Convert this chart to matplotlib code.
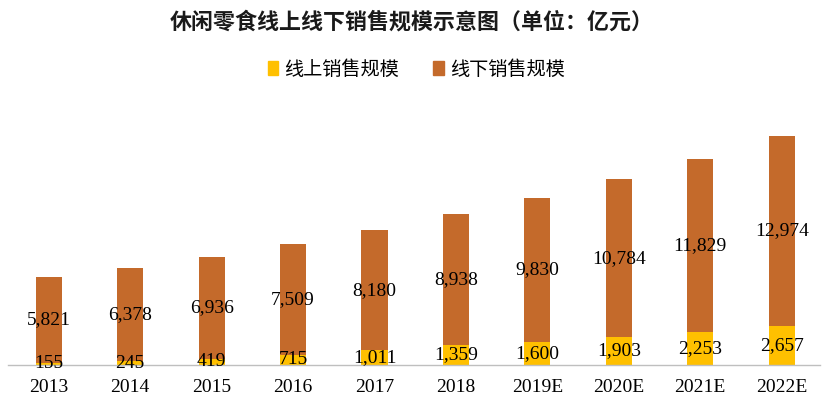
import matplotlib
matplotlib.use("Agg")
import matplotlib.pyplot as plt
from matplotlib.patches import Patch

years = ["2013", "2014", "2015", "2016", "2017", "2018", "2019E", "2020E", "2021E", "2022E"]
online = [155, 245, 419, 715, 1011, 1359, 1600, 1903, 2253, 2657]
offline = [5821, 6378, 6936, 7509, 8180, 8938, 9830, 10784, 11829, 12974]
series_names = ["线上销售规模", "线下销售规模"]
title = "休闲零食线上线下销售规模示意图（单位：亿元）"

c_on = "#FFC000"
c_off = "#C46A2B"
cjk = ["Noto Sans CJK SC", "DejaVu Sans"]
serif = "Liberation Serif"

fig = plt.figure(figsize=(8.24, 4.08), dpi=100)
W, H = 824, 408
ax = fig.add_axes([8 / W, 1 - 365 / H, (820 - 8) / W, (365 - 100) / H])

x = list(range(len(years)))
bw = 0.32
ax.bar(x, online, width=bw, color=c_on, zorder=2)
ax.bar(x, offline, width=bw, bottom=online, color=c_off, zorder=2)

for i in x:
    ax.text(i, online[i] / 2, f"{online[i]:,}", ha="center", va="center",
            fontsize=14, family=serif, color="black", zorder=3)
    ax.text(i, online[i] + offline[i] / 2, f"{offline[i]:,}", ha="center", va="center",
            fontsize=14, family=serif, color="black", zorder=3)

totals = [a + b for a, b in zip(online, offline)]
ax.set_xlim(-0.5, len(years) - 0.53)
ax.set_ylim(0, max(totals) * 1.157)
ax.set_xticks(x)
ax.set_xticklabels(years, fontsize=14, family=serif)
ax.tick_params(axis="x", length=0, pad=10)
ax.set_yticks([])
for s in ["top", "right", "left"]:
    ax.spines[s].set_visible(False)
ax.spines["bottom"].set_color("#BFBFBF")
ax.spines["bottom"].set_linewidth(1)

fig.text(0.5, 1 - 22 / H, title, ha="center", va="center", fontsize=15.8,
         fontweight="bold", family=cjk, color="#1a1a1a")

handles = [Patch(color=c_on), Patch(color=c_off)]
fig.legend(handles, series_names, loc="center", bbox_to_anchor=(0.505, 1 - 69 / H),
           ncol=2, frameon=False, prop={"family": cjk, "size": 13.8},
           handlelength=0.55, handleheight=0.8, handletextpad=0.3, columnspacing=1.8)

fig.savefig("out.png", dpi=100)
